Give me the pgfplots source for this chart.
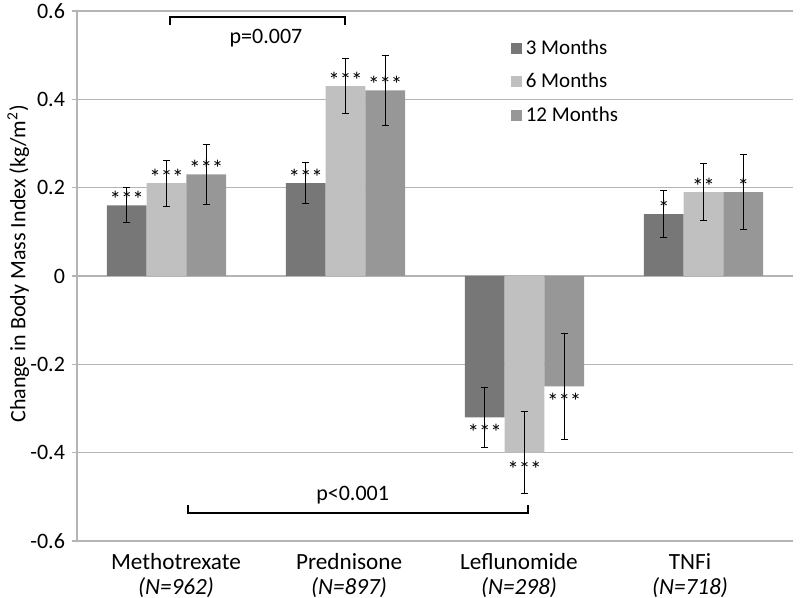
\documentclass[border=0pt]{standalone}
\usepackage{pgfplots}
\usepackage{pgfplotstable}
\usepackage{fontspec}
\setmainfont{Carlito}
\pgfplotsset{compat=1.18}

\definecolor{mThree}{HTML}{777777}
\definecolor{mSix}{HTML}{C0C0C0}
\definecolor{mTwelve}{HTML}{979797}
\definecolor{gridgray}{HTML}{B4B4B4}

% x: 0 Methotrexate, 1 Prednisone, 2 Leflunomide, 3 TNFi
% off = baseline shift of the star label from the bar end (pt)
\pgfplotstableread{
x y e lab off
0 0.16 0.040 *** -1
1 0.21 0.047 *** -1
2 -0.32 0.068 *** -11.5
3 0.14 0.054 * -1
}\threemo
\pgfplotstableread{
x y e lab off
0 0.21 0.052 *** -1
1 0.43 0.063 *** -1
2 -0.40 0.093 *** -12.5
3 0.19 0.064 ** -1
}\sixmo
\pgfplotstableread{
x y e lab off
0 0.23 0.068 *** -1
1 0.42 0.080 *** -1
2 -0.25 0.120 *** -11.5
3 0.19 0.084 * -1
}\twelvemo

\begin{document}
\begin{tikzpicture}
\begin{axis}[name=ax,
  scale only axis, width=358pt, height=265pt,
  ybar=0pt, bar width=0.222,
  xmin=-0.5, xmax=3.5, ymin=-0.6, ymax=0.6,
  xtick={0.053,1.02,1.969,2.925},
  xticklabels={{Methotrexate\\\textit{(N=962)}},{Prednisone\\\textit{(N=897)}},{Leflunomide\\\textit{(N=298)}},{TNFi\\\textit{(N=718)}}},
  xticklabel style={align=center, font=\fontsize{11.6}{12.8}\selectfont},
  ytick={-0.6,-0.4,-0.2,0,0.2,0.4,0.6},
  yticklabels={-0.6,-0.4,-0.2,0,0.2,0.4,0.6},
  yticklabel style={font=\fontsize{11}{12}\selectfont},
  ylabel={Change in Body Mass Index (kg/m\textsuperscript{2})},
  ylabel style={font=\fontsize{11}{12}\selectfont, at={(axis description cs:-0.082,0.523)}, anchor=center},
  axis x line*=bottom, axis y line*=left,
  axis line style={gridgray, line width=0.6pt, -},
  xtick style={draw=none},
  ytick style={gridgray, line width=0.6pt},
  tick align=outside, major tick length=2.5pt,
  ymajorgrids, grid style={gridgray, line width=0.6pt},
  nodes near coords, point meta=explicit symbolic,
  visualization depends on={\thisrow{off} \as \labshift},
  nodes near coords style={font=\fontsize{11.5}{12}\selectfont, inner sep=0pt, anchor=base, yshift=\labshift pt},
  error bars/y dir=both, error bars/y explicit,
  error bars/error bar style={black, line width=0.5pt},
  error bars/error mark options={black, rotate=90, mark size=1.8pt, line width=0.5pt},
  legend style={at={(axis description cs:0.597,0.962)}, anchor=north west, draw=none, fill=none,
    font=\fontsize{10.5}{13}\selectfont, row sep=4pt, legend cell align=left},
  legend image code/.code={\fill[#1] (0pt,-2.75pt) rectangle (5.5pt,2.75pt);},
  clip=false,
]
\addplot[fill=mThree, draw=none] table[x=x, y=y, y error=e, meta=lab] {\threemo};
\addplot[fill=mSix, draw=none] table[x=x, y=y, y error=e, meta=lab] {\sixmo};
\addplot[fill=mTwelve, draw=none] table[x=x, y=y, y error=e, meta=lab] {\twelvemo};
\legend{3 Months,6 Months,12 Months}

% significance brackets
\draw[black, line width=1pt] (axis cs:0.02,0.568) |- (axis cs:1.0,0.587) -- (axis cs:1.0,0.568);
\node[font=\fontsize{11}{13}\selectfont] at (axis cs:0.556,0.539) {p=0.007};
\draw[black, line width=1pt] (axis cs:0.12,-0.519) |- (axis cs:2.02,-0.537) -- (axis cs:2.02,-0.519);
\node[font=\fontsize{11}{13}\selectfont] at (axis cs:1.04,-0.497) {p<0.001};
\end{axis}
\pgfresetboundingbox
\path[use as bounding box] ([xshift=-38.5pt,yshift=-28.5pt]ax.south west) rectangle ([xshift=361.5pt,yshift=270.5pt]ax.south west);
\end{tikzpicture}
\end{document}
